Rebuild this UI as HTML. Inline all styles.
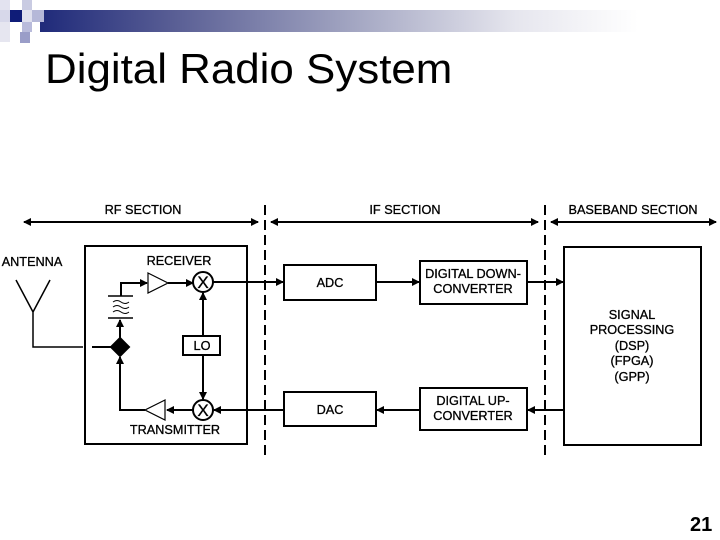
<!DOCTYPE html>
<html><head><style>
body{margin:0;width:720px;height:540px;background:#fff;overflow:hidden;position:relative;font-family:"Liberation Sans",sans-serif}
</style></head><body>
<div style="position:absolute;left:40px;top:10px;width:680px;height:22px;background:linear-gradient(to right,#1f2a7a 0%,#5a5f95 20%,#a0a3c0 45%,#e6e6ee 70%,#fff 88%)"></div>
<div style="position:absolute;left:0;top:0;width:10px;height:10px;background:#e3e3f0"></div>
<div style="position:absolute;left:22px;top:0;width:10px;height:10px;background:#c9cbe2"></div>
<div style="position:absolute;left:10px;top:10px;width:12px;height:12px;background:#0f1c78"></div>
<div style="position:absolute;left:0;top:10px;width:10px;height:12px;background:#d7d8ea"></div>
<div style="position:absolute;left:32px;top:10px;width:12px;height:12px;background:#b5b8d8"></div>
<div style="position:absolute;left:22px;top:10px;width:10px;height:12px;background:#dfe0ee"></div>
<div style="position:absolute;left:22px;top:22px;width:10px;height:10px;background:#b9bbdb"></div>
<div style="position:absolute;left:0;top:22px;width:10px;height:20px;background:#e6e6f0"></div>
<div style="position:absolute;left:20px;top:32px;width:10px;height:11px;background:#9a9dc8"></div>
<div style="position:absolute;left:45px;top:44px;font-size:42px;color:#000;line-height:50px;transform:scaleX(1.045);transform-origin:left">Digital Radio System</div>
<div style="position:absolute;left:690px;top:514px;font-size:20px;font-weight:bold">21</div>
<svg width="720" height="540" style="position:absolute;left:0;top:0" font-family="Liberation Sans, sans-serif" font-size="12.7">
<defs><marker id="a" markerWidth="8" markerHeight="8" refX="7" refY="4" orient="auto" markerUnits="userSpaceOnUse"><path d="M0,0L8,4L0,8z" fill="#000"/></marker></defs>
<g stroke="#000" stroke-width="2" fill="none">
<line x1="265" y1="205" x2="265" y2="455" stroke-dasharray="10,5"/>
<line x1="545" y1="205" x2="545" y2="455" stroke-dasharray="10,5"/>
<line x1="30" y1="222" x2="258" y2="222" marker-end="url(#a)"/><line x1="250" y1="222" x2="24" y2="222" marker-end="url(#a)"/>
<line x1="280" y1="222" x2="538" y2="222" marker-end="url(#a)"/><line x1="530" y1="222" x2="271" y2="222" marker-end="url(#a)"/>
<line x1="560" y1="222" x2="716" y2="222" marker-end="url(#a)"/><line x1="708" y1="222" x2="551" y2="222" marker-end="url(#a)"/>
<rect x="85" y="246" width="162" height="198"/>
<rect x="284" y="265" width="92" height="35"/>
<rect x="420" y="261" width="107" height="43"/>
<rect x="284" y="392" width="92" height="34"/>
<rect x="420" y="388" width="107" height="42"/>
<rect x="564" y="247" width="137" height="198"/>
<path d="M16,280L33,312L50,280M33,312V347H83" stroke-width="1.5"/>
<line x1="92" y1="347" x2="112" y2="347"/>
<polygon points="120,338 129,347 120,356 111,347" fill="#000"/>
<line x1="120" y1="338" x2="120" y2="320" marker-end="url(#a)"/>
<line x1="108" y1="296" x2="133" y2="296" stroke-width="1.5"/><line x1="108" y1="318" x2="133" y2="318" stroke-width="1.5"/>
<path d="M113,302q4,-3 8,0t8,0M113,307q4,-3 8,0t8,0M113,312q4,-3 8,0t8,0" stroke-width="1"/>
<path d="M121,296V283H147" marker-end="url(#a)"/>
<polygon points="148,273 168,283 148,293" stroke-width="1.2"/>
<line x1="168" y1="283" x2="193" y2="283" marker-end="url(#a)"/>
<circle cx="203" cy="282" r="10"/>
<line x1="213" y1="282" x2="283" y2="282" marker-end="url(#a)"/>
<line x1="376" y1="282" x2="419" y2="282" marker-end="url(#a)"/>
<line x1="527" y1="282" x2="563" y2="282" marker-end="url(#a)"/>
<rect x="183" y="336" width="37" height="19"/>
<line x1="203" y1="336" x2="203" y2="293" marker-end="url(#a)"/>
<line x1="203" y1="355" x2="203" y2="399" marker-end="url(#a)"/>
<circle cx="203" cy="410" r="10"/>
<line x1="193" y1="410" x2="167" y2="410" marker-end="url(#a)"/>
<polygon points="165,400 145,410 165,420" stroke-width="1.2"/>
<path d="M145,410H120V357" marker-end="url(#a)"/>
<line x1="284" y1="410" x2="214" y2="410" marker-end="url(#a)"/>
<line x1="420" y1="410" x2="377" y2="410" marker-end="url(#a)"/>
<line x1="564" y1="410" x2="528" y2="410" marker-end="url(#a)"/>
</g>
<g fill="#000" text-anchor="middle" stroke="#000" stroke-width="0.3">
<text x="203" y="288" font-size="17">X</text>
<text x="203" y="416" font-size="17">X</text>
<text x="143" y="214">RF SECTION</text>
<text x="405" y="214">IF SECTION</text>
<text x="633" y="214">BASEBAND SECTION</text>
<text x="32" y="266">ANTENNA</text>
<text x="179" y="265">RECEIVER</text>
<text x="175" y="434">TRANSMITTER</text>
<text x="202" y="350">LO</text>
<text x="330" y="287">ADC</text>
<text x="330" y="414">DAC</text>
<text x="473" y="278">DIGITAL DOWN-</text><text x="473" y="293">CONVERTER</text>
<text x="473" y="405">DIGITAL UP-</text><text x="473" y="420">CONVERTER</text>
<text x="632" y="319">SIGNAL</text><text x="632" y="334">PROCESSING</text><text x="632" y="350">(DSP)</text><text x="632" y="365">(FPGA)</text><text x="632" y="381">(GPP)</text>
</g>
</svg>
</body></html>
